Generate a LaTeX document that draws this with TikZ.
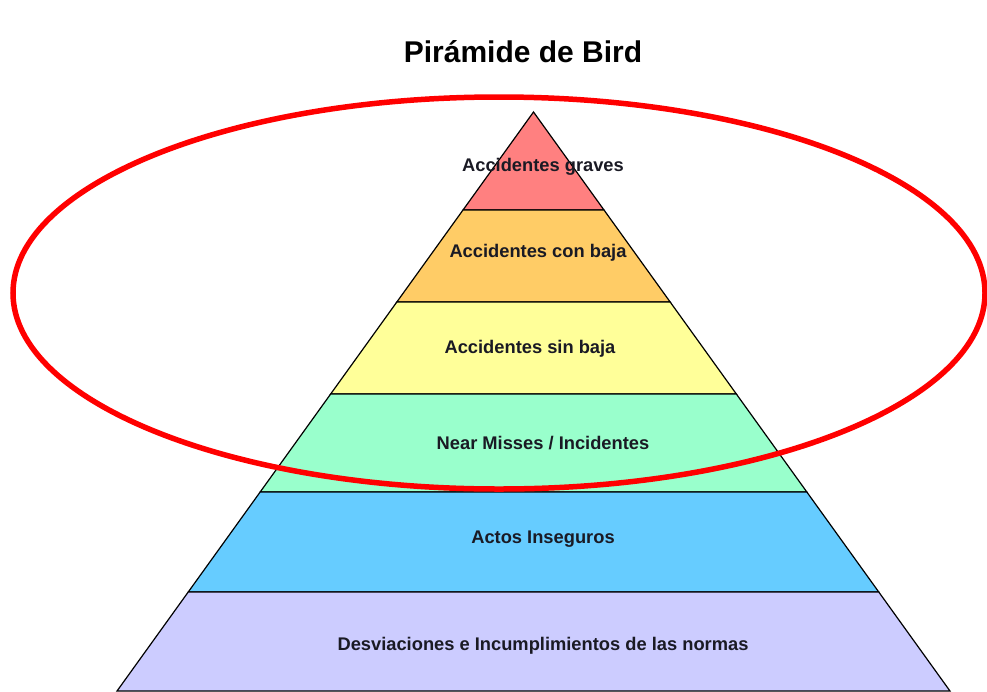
\documentclass[tikz,border=0pt]{standalone}
\usepackage{fontspec}
\setmainfont{Liberation Sans}
\definecolor{bandred}{HTML}{FF8080}
\definecolor{bandorange}{HTML}{FFCC66}
\definecolor{bandyellow}{HTML}{FFFF99}
\definecolor{bandgreen}{HTML}{99FFCC}
\definecolor{bandblue}{HTML}{66CCFF}
\definecolor{bandlilac}{HTML}{CCCCFF}
\definecolor{txtdark}{HTML}{1A1A24}
\tikzset{
  band/.style={draw=black,line width=1.2pt,line join=miter},
  lvl/.style={font=\fontsize{18.3}{21}\selectfont\bfseries,text=txtdark,inner sep=0pt},
  ring/.style={draw=red,line width=5.5pt}
}
\begin{document}
\begin{tikzpicture}[x=1pt,y=-1pt]
        \useasboundingbox (0,0) rectangle (987,691);
        %% Title
        \node[font=\fontsize{30}{34}\selectfont\bfseries,text=black] (title) at (523,52) {Pirámide de Bird};
        %% Pyramid bands
        \foreach \yt/\yb/\col/\lx/\ly/\txt [count=\i] in {
            112/210/bandred/543/167/{Accidentes graves},
            210/302/bandorange/538/253/{Accidentes con baja},
            302/394/bandyellow/530/349/{Accidentes sin baja},
            394/492/bandgreen/543/443/{Near Misses / Incidentes},
            492/592/bandblue/543/539/{Actos Inseguros},
            592/691/bandlilac/543/646/{Desviaciones e Incumplimientos de las normas}}
        {
            \pgfmathsetmacro{\wt}{0.7193*(\yt-112)}
            \pgfmathsetmacro{\wb}{0.7193*(\yb-112)}
            \draw[band,fill=\col] ({533.5-\wt},\yt) -- ({533.5+\wt},\yt)
                -- ({533.5+\wb},\yb) -- ({533.5-\wb},\yb) -- cycle;
            \node[lvl] (lvl\i) at (\lx,\ly) {\txt};
        }
        %% Highlight ring
        \draw[ring] (499,293) ellipse [x radius=486pt, y radius=196pt];
    \end{tikzpicture}
\end{document}
